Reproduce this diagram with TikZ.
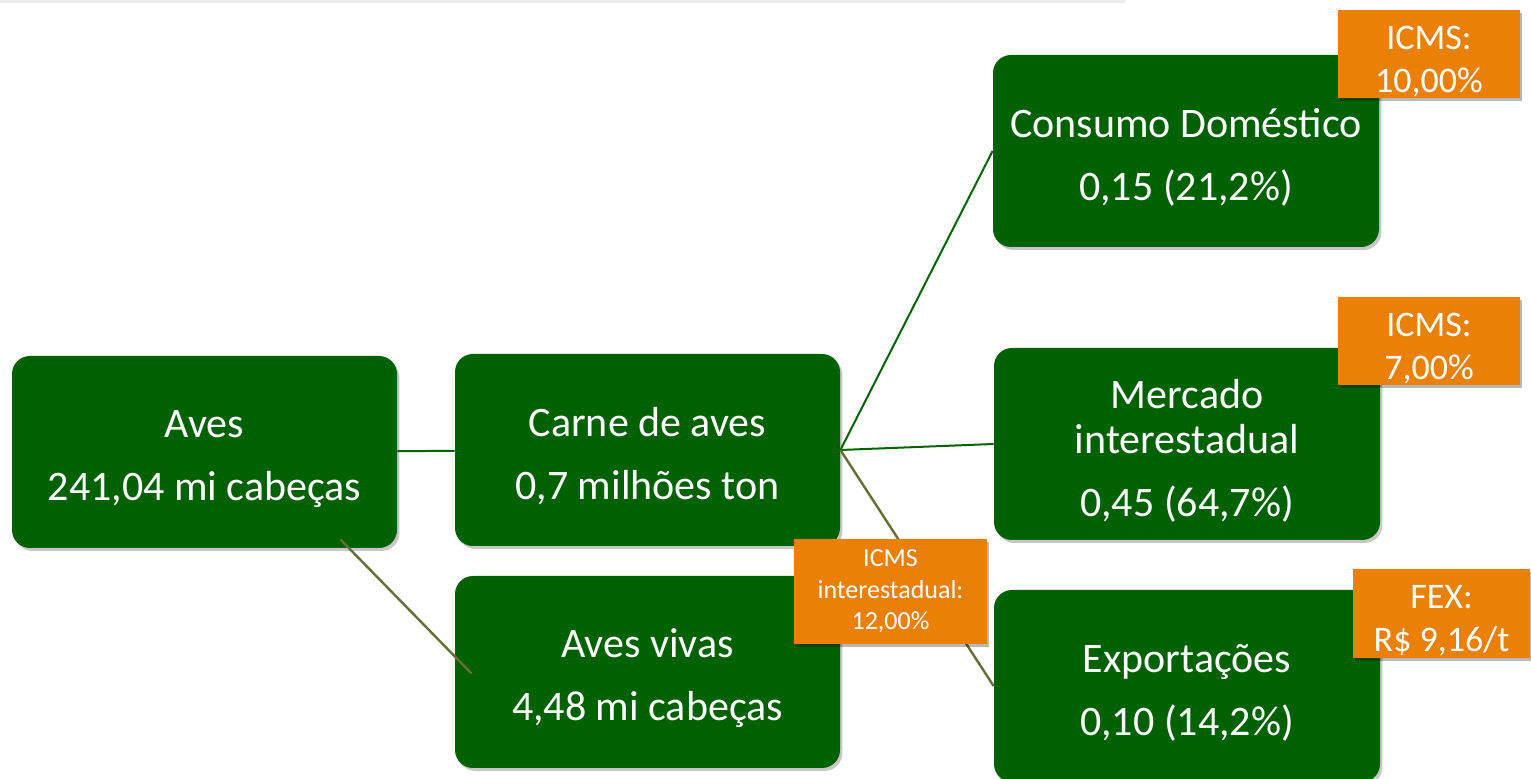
\documentclass[tikz,border=0pt]{standalone}
\usepackage{fontspec}
\setmainfont{Carlito}
\usetikzlibrary{calc,shadows}
\definecolor{boxgreen}{RGB}{0,97,0}
\definecolor{taxorange}{RGB}{234,128,6}
\definecolor{linegreen}{RGB}{0,100,0}
\definecolor{lineolive}{RGB}{100,110,55}
\newcommand{\toppad}[1]{\rule{0pt}{#1}}
\tikzset{
  greenbox/.style={rectangle, rounded corners=9pt, fill=boxgreen, text=white,
    minimum width=192.5pt, minimum height=96pt, align=center, inner sep=0pt,
    font=\fontsize{21}{22.5}\selectfont,
    drop shadow={shadow xshift=1.2pt, shadow yshift=-1.5pt, opacity=0.22, fill=black}},
  taxbox/.style={rectangle, fill=taxorange, text=white, align=center, inner sep=0pt,
    font=\fontsize{18}{21.5}\selectfont,
    drop shadow={shadow xshift=1.2pt, shadow yshift=-1.5pt, opacity=0.28, fill=black}},
  greenline/.style={draw=linegreen, line width=1pt},
  oliveline/.style={draw=lineolive, line width=1.2pt}
}
\begin{document}
\begin{tikzpicture}[x=0.5pt, y=-0.5pt]
\useasboundingbox (0,0) rectangle (1531,779);
\fill[white] (0,0) rectangle (1531,779);
% faint shadow line at the top
\draw[black!7, line width=1.2pt] (0,1.5) -- (1125,1.5);

% green boxes
\node[greenbox] (aves) at (204.5,452) {\toppad{21pt}Aves\\[9pt]241,04 mi cabeças};
\node[greenbox] (carne) at (647.5,450) {\toppad{21pt}Carne de aves\\[9pt]0,7 milhões ton};
\node[greenbox] (vivas) at (647.5,672) {\toppad{21pt}Aves vivas\\[9pt]4,48 mi cabeças};
\node[greenbox, minimum width=193pt] (consumo) at (1186,151) {\toppad{21pt}Consumo Doméstico\\[9pt]0,15 (21,2\%)};
\node[greenbox, minimum width=193pt] (mercado) at (1187,444) {\toppad{21pt}Mercado\\interestadual\\[9pt]0,45 (64,7\%)};
\node[greenbox, minimum width=193pt] (export) at (1187,686) {\toppad{21pt}Exportações\\[9pt]0,10 (14,2\%)};

% connectors
\draw[greenline] (aves) -- (carne);
\draw[greenline] (carne.east) -- (consumo.west);
\draw[greenline] (carne.east) -- (mercado.west);
\draw[oliveline] (carne.east) -- (export.west);
\coordinate (avesfoot) at ($(aves.south east)+(-57,-9)$);
\coordinate (vivasfoot) at ($(vivas.north west)+(17,98)$);
\draw[oliveline] (avesfoot) -- (vivasfoot);

% orange tax labels
\node[taxbox, minimum width=91pt, minimum height=44pt] (icms10) at (1429,54) {\toppad{19pt}ICMS:\\10,00\%};
\node[taxbox, minimum width=91pt, minimum height=44pt] (icms7) at (1429,341) {\toppad{19pt}ICMS:\\7,00\%};
\node[taxbox, minimum width=88.5pt, minimum height=44.5pt] (fex) at (1441.5,613.5) {\toppad{19pt}FEX:\\R\$ 9,16/t};
\node[taxbox, minimum width=96.5pt, minimum height=52.5pt, font=\fontsize{13}{15.75}\selectfont] (icmsint) at (890.5,591.5) {ICMS\\interestadual:\\12,00\%};
\end{tikzpicture}
\end{document}
